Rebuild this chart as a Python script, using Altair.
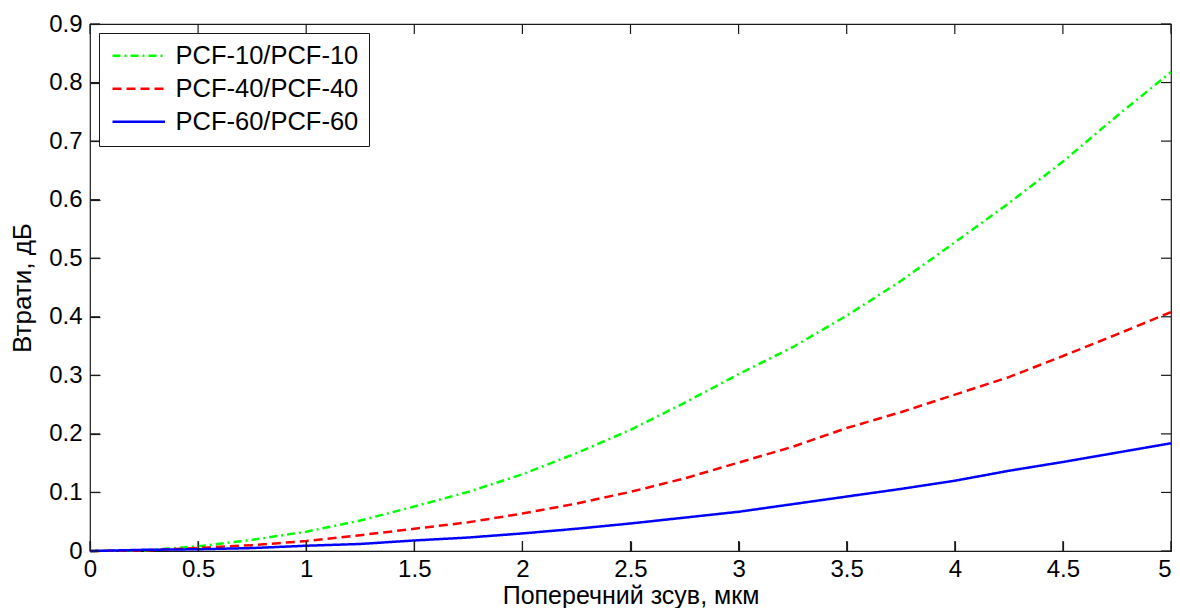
import altair as alt
import pandas as pd

# ---- data ----
x_vals = [0, 0.25, 0.5, 0.75, 1, 1.25, 1.5, 1.75, 2, 2.25, 2.5, 2.75,
          3, 3.25, 3.5, 3.75, 4, 4.25, 4.5, 4.75, 5]
pcf10 = [0, 0.001, 0.008, 0.019, 0.033, 0.052, 0.076, 0.101, 0.131, 0.167, 0.207,
         0.253, 0.302, 0.348, 0.402, 0.461, 0.527, 0.594, 0.665, 0.743, 0.818]
pcf40 = [0, 0.001, 0.005, 0.010, 0.017, 0.027, 0.038, 0.049, 0.064, 0.081, 0.101,
         0.124, 0.151, 0.178, 0.210, 0.237, 0.267, 0.297, 0.333, 0.370, 0.408]
pcf60 = [0, 0.002, 0.003, 0.005, 0.009, 0.012, 0.018, 0.023, 0.030, 0.038, 0.047,
         0.057, 0.067, 0.080, 0.093, 0.106, 0.120, 0.137, 0.152, 0.168, 0.184]

series_names = ["PCF-10/PCF-10", "PCF-40/PCF-40", "PCF-60/PCF-60"]
series_colors = ["#00ff00", "#ff0000", "#0000ff"]
series_dash = [[8, 4, 2, 4], [9, 5], [1, 0]]

x_ticks = [0, 0.5, 1, 1.5, 2, 2.5, 3, 3.5, 4, 4.5, 5]
y_ticks = [0, 0.1, 0.2, 0.3, 0.4, 0.5, 0.6, 0.7, 0.8, 0.9]
x_title = "Поперечний зсув, мкм"
y_title = "Втрати, дБ"

rows = []
for name, vals in zip(series_names, [pcf10, pcf40, pcf60]):
    for i, (xv, yv) in enumerate(zip(x_vals, vals)):
        rows.append({"x": xv, "y": yv, "series": name, "idx": i})
df = pd.DataFrame(rows)
xt = pd.DataFrame({"x": x_ticks})
yt = pd.DataFrame({"y": y_ticks})

W, H, TICK = 1081, 527, 10
FONT = "Liberation Sans"
AX = "#1a1a1a"

xscale = alt.Scale(domain=[0, 5], nice=False, zero=False)
yscale = alt.Scale(domain=[0, 0.9], nice=False, zero=False)

legend = alt.Legend(
    title=None, orient="top-left", offset=9, padding=10,
    fillColor="white", strokeColor=AX,
    symbolType="M-2.5,0H2.5", symbolSize=441, symbolStrokeWidth=2.5,
    symbolOffset=17,
    labelFontSize=25.5, labelFont=FONT, labelColor="black",
    labelOffset=24, rowPadding=6, labelLimit=400,
)

x_axis = alt.Axis(
    orient="bottom", values=x_ticks, offset=-TICK, ticks=True, tickSize=TICK,
    tickColor=AX, tickWidth=1.2,
    domain=False, grid=False, labelFlush=False, labelOverlap=False,
    labelAlign=alt.condition("datum.value == 5", alt.value("right"), alt.value("center")),
    labelPadding=6, labelFontSize=24, labelFont=FONT, labelColor="black",
    labelExpr="datum.value",
    title=x_title, titleFontSize=25, titleFont=FONT, titleFontWeight="normal",
    titleColor="black", titlePadding=2,
)
y_axis = alt.Axis(
    orient="left", values=y_ticks, offset=-TICK, ticks=True, tickSize=TICK,
    tickColor=AX, tickWidth=1.2,
    domain=False, grid=False, labelFlush=False, labelOverlap=False,
    labelPadding=8, labelFontSize=24, labelFont=FONT, labelColor="black",
    labelExpr="datum.value",
    title=y_title, titleFontSize=26, titleFont=FONT, titleFontWeight="normal",
    titleColor="black", titlePadding=13,
)

lines = alt.Chart(df).mark_line(strokeWidth=2.5).encode(
    x=alt.X("x:Q", scale=xscale, axis=x_axis),
    y=alt.Y("y:Q", scale=yscale, axis=y_axis),
    color=alt.Color("series:N",
                    scale=alt.Scale(domain=series_names, range=series_colors),
                    legend=legend),
    strokeDash=alt.StrokeDash("series:N",
                              scale=alt.Scale(domain=series_names, range=series_dash),
                              legend=legend),
    order="idx:Q",
)

# inward tick marks on all four sides (MATLAB-style box)
tick_bottom = alt.Chart(xt).mark_rule(color=AX, strokeWidth=1.2).encode(
    x=alt.X("x:Q", scale=xscale, axis=x_axis),
    y=alt.value(H - TICK), y2=alt.value(H),
)
tick_top = alt.Chart(xt).mark_rule(color=AX, strokeWidth=1.2).encode(
    x=alt.X("x:Q", scale=xscale, axis=x_axis),
    y=alt.value(0), y2=alt.value(TICK),
)
tick_left = alt.Chart(yt).mark_rule(color=AX, strokeWidth=1.2).encode(
    y=alt.Y("y:Q", scale=yscale, axis=y_axis),
    x=alt.value(0), x2=alt.value(TICK),
)
tick_right = alt.Chart(yt).mark_rule(color=AX, strokeWidth=1.2).encode(
    y=alt.Y("y:Q", scale=yscale, axis=y_axis),
    x=alt.value(W - TICK), x2=alt.value(W),
)

chart = alt.layer(lines, tick_bottom, tick_top, tick_left, tick_right).properties(
    width=W, height=H,
    autosize=alt.AutoSizeParams(type="none"),
    padding={"left": 82, "top": 16, "right": 1, "bottom": 57},
    background="white",
).configure_view(
    stroke=AX, strokeWidth=1.2
)

chart.save("out.html", embed_options={"renderer": "svg", "actions": False})
